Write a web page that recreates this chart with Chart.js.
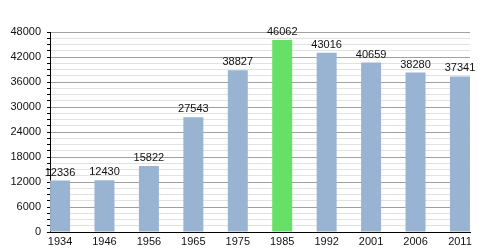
<!DOCTYPE html>
<html>
<head>
<meta charset="utf-8">
<script src="https://cdn.jsdelivr.net/npm/chart.js@4"></script>
<style>
  html, body { margin: 0; padding: 0; background: #fff; }
  #wrap { width: 500px; height: 250px; }
</style>
</head>
<body>
<div id="wrap"><canvas id="popChart"></canvas></div>
<script>
const years = ["1934", "1946", "1956", "1965", "1975", "1985", "1992", "2001", "2006", "2011"];
const population = [12336, 12430, 15822, 27543, 38827, 46062, 43016, 40659, 38280, 37341];
const highlightYear = "1985";

const barColors = years.map(y => y === highlightYear ? "#66e066" : "#98b4d2");

// population figure written above each bar
const valueLabels = {
  id: "valueLabels",
  afterDatasetsDraw(chart) {
    const ctx = chart.ctx;
    const meta = chart.getDatasetMeta(0);
    ctx.save();
    ctx.font = "11px 'Liberation Sans', Arial, sans-serif";
    ctx.fillStyle = "#111";
    ctx.textAlign = "center";
    ctx.textBaseline = "alphabetic";
    meta.data.forEach((bar, i) => {
      ctx.fillText(String(population[i]), bar.x, bar.y - 5);
    });
    ctx.restore();
  }
};

new Chart(document.getElementById("popChart"), {
  type: "bar",
  data: {
    datasets: [{
      data: population.map((v, i) => ({ x: i, y: v })),
      backgroundColor: barColors,
      borderWidth: 0,
      categoryPercentage: 1,
      barPercentage: 0.45
    }]
  },
  options: {
    responsive: true,
    maintainAspectRatio: false,
    animation: false,
    layout: { padding: { top: 32, right: 30, left: 0, bottom: 0 } },
    plugins: { legend: { display: false }, tooltip: { enabled: false } },
    scales: {
      x: {
        type: "linear",
        offset: false,
        min: -0.226,
        max: years.length - 1 + 0.226,
        afterBuildTicks: axis => { axis.ticks = years.map((_, i) => ({ value: i })); },
        afterFit: s => { s.height = 18; },
        grid: { display: false, drawTicks: false, offset: false },
        border: { display: true, color: "#000", width: 1 },
        ticks: {
          autoSkip: false,
          maxRotation: 0,
          padding: 3,
          color: "#111",
          font: { family: "'Liberation Sans', Arial, sans-serif", size: 11 },
          callback: v => years[Math.round(v)] ?? ""
        }
      },
      y: {
        min: 0,
        max: 48000,
        afterFit: s => { s.width = 50; },
        border: { display: true, color: "#000", width: 1 },
        grid: {
          color: c => (c.tick && c.tick.value % 6000 === 0) ? "#a0a0a0" : "#e2e2e2",
          tickColor: "#000",
          tickLength: 3,
          lineWidth: 1
        },
        ticks: {
          stepSize: 1500,
          autoSkip: false,
          padding: 6,
          color: "#111",
          font: { family: "'Liberation Sans', Arial, sans-serif", size: 11 },
          callback: v => v % 6000 === 0 ? String(v) : ""
        }
      }
    }
  },
  plugins: [valueLabels]
});
</script>
</body>
</html>
